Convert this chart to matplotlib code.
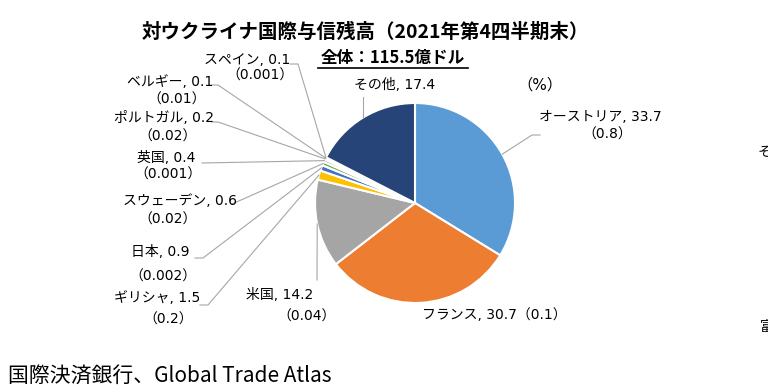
import matplotlib.pyplot as plt
import numpy as np

plt.rcParams['font.family'] = ['Noto Sans CJK JP', 'DejaVu Sans']

################################# Data ####################################
countries = ["オーストリア", "フランス", "米国", "ギリシャ", "日本", "スウェーデン",
             "英国", "ポルトガル", "ベルギー", "スペイン", "その他"]
shares = [33.7, 30.7, 14.2, 1.5, 0.9, 0.6, 0.4, 0.2, 0.1, 0.1, 17.4]
gdp_ratio = ["0.8", "0.1", "0.04", "0.2", "0.002", "0.02", "0.001", "0.02", "0.01", "0.001", None]
colors = ["#5B9BD5", "#ED7D31", "#A5A5A5", "#FFC000", "#4472C4", "#70AD47",
          "#264478", "#9E480E", "#636363", "#997300", "#264478"]

title = "対ウクライナ国際与信残高（2021年第4四半期末）"
subtitle = "全体：115.5億ドル"
source = "国際決済銀行、Global Trade Atlas"

W, H = 768, 385
def Y(y):
    return H - y

################################# Figure ##################################
fig = plt.figure(figsize=(W / 100, H / 100), dpi=100)
ax = fig.add_axes([0, 0, 1, 1])
cx, cy, R = 415, Y(203), 100
wedges, _ = ax.pie(shares, colors=colors, startangle=90, counterclock=False,
                   center=(cx, cy), radius=R,
                   wedgeprops=dict(edgecolor="white", linewidth=1.5))
ax.set_xlim(0, W)
ax.set_ylim(0, H)
ax.set_aspect("equal")
ax.axis("off")

def edge_point(w):
    a = np.deg2rad((w.theta1 + w.theta2) / 2)
    return cx + R * np.cos(a), cy + R * np.sin(a)

# labels: latin parts in a wide face, kana/kanji from the CJK font
lab = dict(fontsize=10, family=['DejaVu Sans', 'Noto Sans CJK JP'], ha="center", va="center")
line_c = "#A6A6A6"

layout = {
    "オーストリア": dict(t=(600, 117), r=(607, 135), knee=[(540, 135), (532, 135)]),
    "米国": dict(t=(280, 295), r=(307, 317), knee=[(317, 280)]),
    "ギリシャ": dict(t=(157, 298), r=(168, 320), knee=[(200, 305), (208, 305)]),
    "日本": dict(t=(160, 252), r=(163, 277), knee=[(195, 258), (203, 258)]),
    "スウェーデン": dict(t=(180, 201), r=(168, 220), knee=[(232, 204)]),
    "英国": dict(t=(166, 158), r=(168, 175), knee=[(202, 163)]),
    "ポルトガル": dict(t=(164, 118), r=(168, 137), knee=[(212, 122), (218, 122)]),
    "ベルギー": dict(t=(170, 82), r=(177, 100), knee=[(212, 85), (218, 85)]),
    "スペイン": dict(t=(247, 60), r=(260, 76), knee=[(290, 64), (298, 64)]),
}

for w, name, v, g in zip(wedges, countries, shares, gdp_ratio):
    ex, ey = edge_point(w)
    if name == "フランス":
        ax.text(494, Y(315), f"{name}, {v}（{g}）", **lab)
        continue
    if name == "その他":
        ax.text(395, Y(85), f"{name}, {v}", **lab)
        ax.plot([363, 363], [Y(97), Y(117)], color=line_c, lw=0.8)
        continue
    L = layout[name]
    ax.text(L["t"][0], Y(L["t"][1]), f"{name}, {v}", **lab)
    ax.text(L["r"][0], Y(L["r"][1]), f"（{g}）", **lab)
    pts = [(x, Y(y)) for x, y in L["knee"]] + [(ex, ey)]
    xs, ys = zip(*pts)
    ax.plot(xs, ys, color=line_c, lw=0.8)

################################# Texts ###################################
ax.text(365, Y(32), title, fontsize=14, fontweight="bold", ha="center", va="center")
ax.text(393, Y(58), subtitle, fontsize=12, fontweight="bold", ha="center", va="center")
ax.plot([318, 468], [Y(68), Y(68)], color="black", lw=1.2)
ax.text(540, Y(85), "（%）", fontsize=11, family=['DejaVu Sans', 'Noto Sans CJK JP'],
        ha="center", va="center")
ax.text(8, Y(377), source, fontsize=15, ha="left", va="center")

# bits of the neighbouring chart cut off at the right edge
ax.text(758, Y(152), "その他", fontsize=10, ha="left", va="center")
ax.text(760, Y(327), "富", fontsize=10, ha="left", va="center")

fig.savefig("out.png", dpi=100)
